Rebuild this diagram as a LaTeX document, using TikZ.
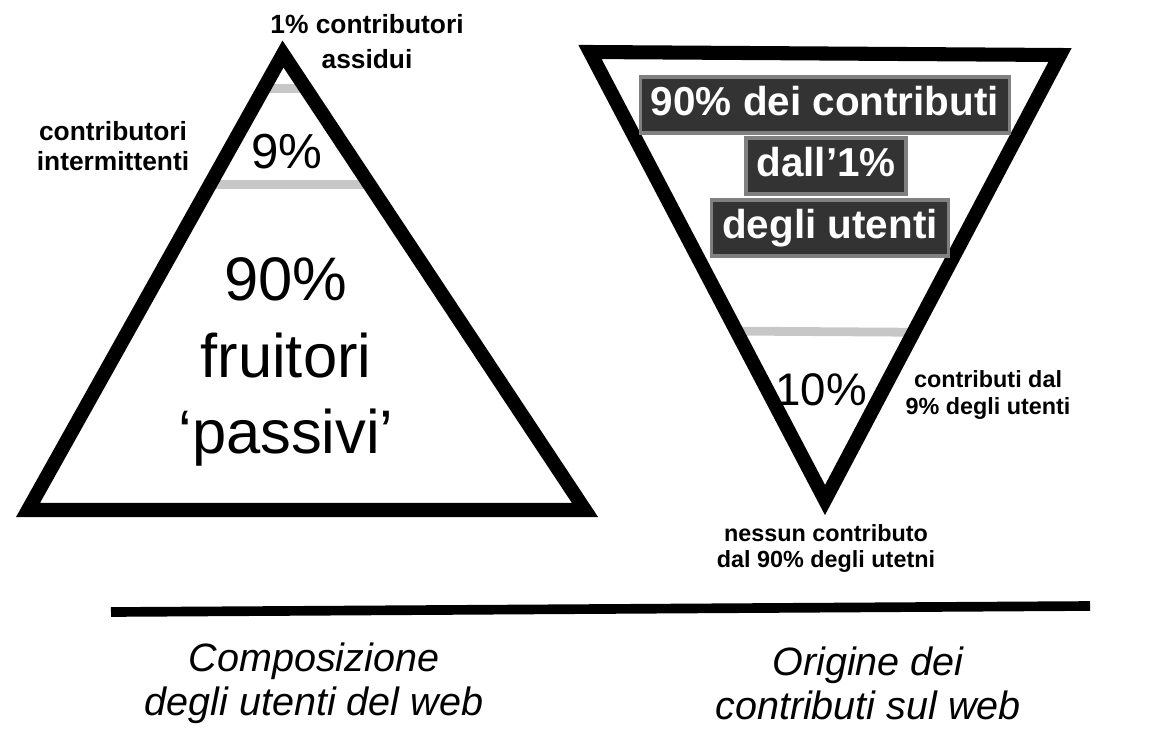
\documentclass[tikz,border=0pt]{standalone}
\usepackage{fontspec}
\setmainfont{Liberation Sans}
\usetikzlibrary{calc}
\tikzset{
  pyramid/.style={line width=8pt, line join=miter},
  band/.style={black!22, line width=5pt},
  tag/.style={font=\bfseries\fontsize{15}{17}\selectfont, align=center, inner sep=0pt},
  sidetag/.style={font=\bfseries\fontsize{13.3}{14.8}\selectfont, align=center, inner sep=0pt},
  share/.style={font=\fontsize{28}{30}\selectfont, inner sep=0pt},
  hilite/.style={fill=black!80, draw=black!50, line width=2pt, text=white,
    font=\bfseries\fontsize{23}{24}\selectfont, inner xsep=6pt, inner ysep=5pt,
    text height=17pt, text depth=5pt},
  caption/.style={font=\itshape\fontsize{22.5}{25}\selectfont, align=center, inner sep=0pt}
}
\begin{document}
\begin{tikzpicture}[x=0.02cm,y=-0.02cm]
  \useasboundingbox (0,0) rectangle (1163,731);
  % composizione degli utenti
  \coordinate (ltop) at (283,54);
  \coordinate (lleft) at (28,510);
  \coordinate (lright) at (585,510);
  \draw[band] ($(ltop)!0.075!(lleft)$) -- ($(ltop)!0.075!(lright)$);
  \draw[band] ($(ltop)!0.287!(lleft)$) -- ($(ltop)!0.287!(lright)$);
  \draw[pyramid] (ltop) -- (lleft) -- (lright) -- cycle;
  \node[tag] (assidui) at (367,42) {1\% contributori\\[3pt]assidui};
  \node[tag] (intermit) at (113,146) {contributori\\intermittenti};
  \node[share] (nove) at (287,152) {9\%};
  \node[font=\fontsize{35}{43.7}\selectfont, align=center, inner sep=0pt] (passivi) at (286,362)
    {90\%\\fruitori\\`passivi'};
  % origine dei contributi
  \coordinate (rtl) at (590,52);
  \coordinate (rtr) at (1060,55);
  \coordinate (rbot) at (825,500);
  \draw[band] ($(rbot)!0.377!(rtl)$) -- ($(rbot)!0.377!(rtr)$);
  \draw[pyramid] (rtl) -- (rtr) -- (rbot) -- cycle;
  \node[hilite] (hl1) at (825,105) {90\% dei contributi};
  \node[hilite] (hl2) at (826,166) {dall'1\%};
  \node[hilite] (hl3) at (830,228) {degli utenti};
  \node[share, font=\fontsize{26}{30}\selectfont] (dieci) at (821,390) {10\%};
  \node[sidetag] (occas) at (988,395) {contributi dal\\9\% degli utenti};
  \node[sidetag] (nessun) at (826,548) {nessun contributo\\dal 90\% degli utetni};
  % didascalie
  \coordinate (rulel) at (111,612);
  \coordinate (ruler) at (1090,606);
  \draw[line width=5.5pt] (rulel) -- (ruler);
  \node[caption] (compos) at (314,683) {Composizione\\degli utenti del web};
  \node[caption] (origine) at (868,683) {Origine dei\\contributi sul web};
\end{tikzpicture}
\end{document}
